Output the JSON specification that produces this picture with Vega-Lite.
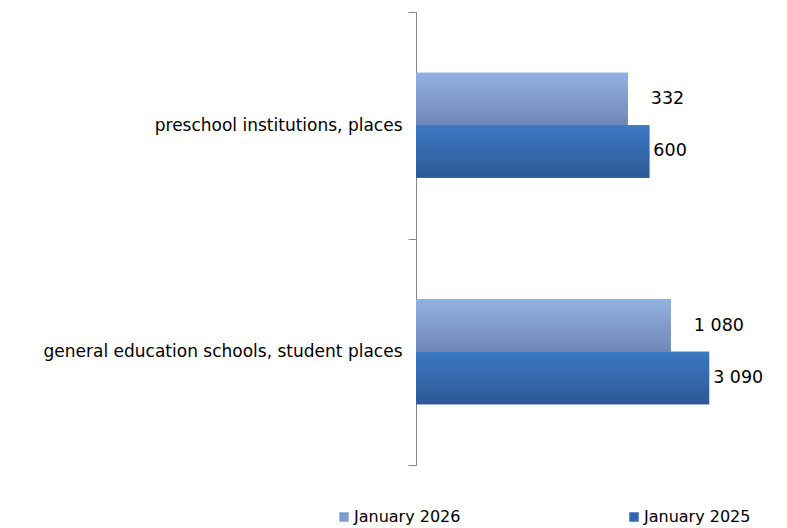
{
  "$schema": "https://vega.github.io/schema/vega-lite/v6.json",
  "autosize": "none",
  "padding": {"left": 416, "top": 12, "right": 35, "bottom": 63},
  "width": 336,
  "height": 453,
  "background": "white",
  "config": {"view": {"stroke": null}, "font": "Liberation Sans"},
  "data": {"values": [
    {"category": "preschool institutions, places", "series": "January 2026", "value": 332, "label": "332"},
    {"category": "preschool institutions, places", "series": "January 2025", "value": 600, "label": "600"},
    {"category": "general education schools, student places", "series": "January 2026", "value": 1080, "label": "1 080"},
    {"category": "general education schools, student places", "series": "January 2025", "value": 3090, "label": "3 090"}
  ]},
  "encoding": {
    "y": {"field": "category", "type": "nominal", "sort": null,
      "scale": {"paddingInner": 0, "paddingOuter": 0},
      "axis": {"title": null, "tickBand": "extent", "tickSize": 8, "tickColor": "#868686", "domainColor": "#868686",
        "labelFontSize": 17, "labelFont": "DejaVu Sans", "labelColor": "#000000", "labelPadding": 6, "labelLimit": 420}},
    "yOffset": {"field": "series", "type": "nominal",
      "scale": {"domain": ["pad_top", "January 2026", "January 2025", "pad_bottom"], "paddingInner": 0, "paddingOuter": 0.16}},
    "x": {"field": "value", "type": "quantitative", "scale": {"type": "log", "domain": [1, 10000], "nice": false}, "axis": null}
  },
  "layer": [
    {"mark": {"type": "bar"},
     "encoding": {"x2": {"datum": 1},
       "color": {"field": "series", "type": "nominal", "sort": ["January 2026", "January 2025"],
       "scale": {"domain": ["January 2026", "January 2025"], "range": ["#809CCC", "#3468AE"]},
       "legend": {"title": null, "orient": "none", "legendX": -80, "legendY": 497, "direction": "horizontal",
         "symbolType": "square", "symbolSize": 90, "labelFontSize": 16, "labelFont": "DejaVu Sans", "labelColor": "#000000", "columnPadding": 165, "labelOffset": 2}}}},
    {"transform": [{"filter": "datum.series == 'January 2026'"}],
     "mark": {"type": "bar", "color": {"gradient": "linear", "x1": 0, "y1": 0, "x2": 0, "y2": 1,
       "stops": [{"offset": 0, "color": "#92B1E2"}, {"offset": 1, "color": "#6F87B6"}]}},
     "encoding": {"x2": {"datum": 1}}},
    {"transform": [{"filter": "datum.series == 'January 2025'"}],
     "mark": {"type": "bar", "color": {"gradient": "linear", "x1": 0, "y1": 0, "x2": 0, "y2": 1,
       "stops": [{"offset": 0, "color": "#3C78C4"}, {"offset": 1, "color": "#2D5996"}]}},
     "encoding": {"x2": {"datum": 1}}},
    {"transform": [{"filter": "datum.series == 'January 2026'"}],
     "mark": {"type": "text", "align": "left", "baseline": "middle", "dx": 23, "fontSize": 17.5, "font": "DejaVu Sans", "color": "#000000"},
     "encoding": {"text": {"field": "label"}}},
    {"transform": [{"filter": "datum.series == 'January 2025'"}],
     "mark": {"type": "text", "align": "left", "baseline": "middle", "dx": 4, "fontSize": 17.5, "font": "DejaVu Sans", "color": "#000000"},
     "encoding": {"text": {"field": "label"}}}
  ]
}
